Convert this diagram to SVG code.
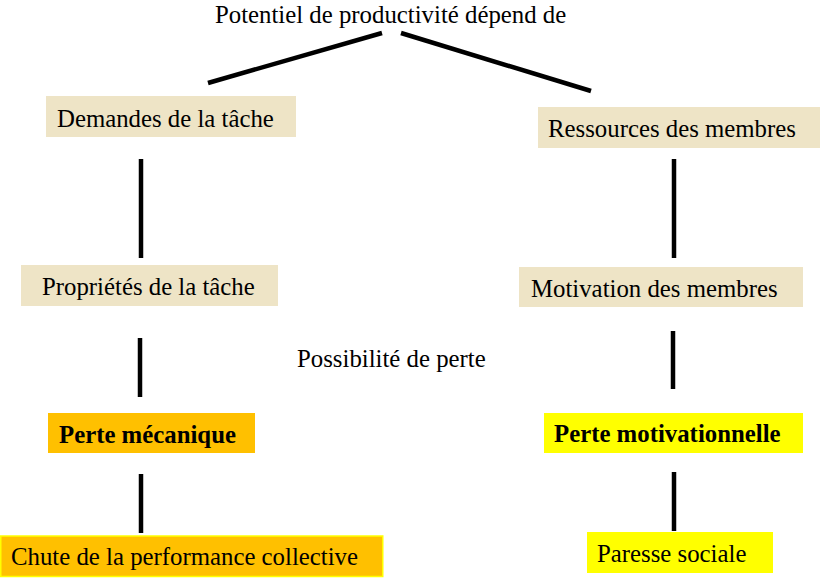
<svg xmlns="http://www.w3.org/2000/svg" width="822" height="578" viewBox="0 0 822 578">
<style>
text{font-family:"Liberation Serif","Times New Roman",serif;font-size:24.8px;fill:#000}
.b{font-weight:bold}
.tan{fill:#EEE4C6}
.org{fill:#FFC000}
.yel{fill:#FFFF00}
.c line{stroke:#000;stroke-width:4.5}
</style>
<rect width="822" height="578" fill="#fff"/>
<g id="title"><text x="215" y="22.5">Potentiel de productivité dépend de</text></g>
<g id="possibilite"><text x="297" y="367">Possibilité de perte</text></g>
<g class="c" id="connectors">
<line x1="208" y1="83" x2="382" y2="33"/>
<line x1="401" y1="33" x2="591" y2="91"/>
<line x1="141" y1="159" x2="141" y2="258"/>
<line x1="674" y1="159" x2="674" y2="258"/>
<line x1="140" y1="338" x2="140" y2="397"/>
<line x1="673" y1="331" x2="673" y2="389"/>
<line x1="141" y1="474" x2="141" y2="533"/>
<line x1="674" y1="472" x2="674" y2="531"/>
</g>
<g id="demandes"><rect class="tan" x="46" y="96" width="250" height="41"/><text x="57" y="127">Demandes de la tâche</text></g>
<g id="ressources"><rect class="tan" x="538" y="107" width="282" height="41"/><text x="548" y="137">Ressources des membres</text></g>
<g id="proprietes"><rect class="tan" x="21" y="265" width="257" height="41"/><text x="42" y="295">Propriétés de la tâche</text></g>
<g id="motivation"><rect class="tan" x="519" y="267" width="284" height="40"/><text x="531" y="297">Motivation des membres</text></g>
<g id="perte-mecanique"><rect class="org" x="48" y="413" width="207" height="40"/><text class="b" x="59" y="443">Perte mécanique</text></g>
<g id="perte-motivationnelle"><rect class="yel" x="544" y="413" width="259" height="40"/><text class="b" x="554" y="442">Perte motivationnelle</text></g>
<g id="chute"><rect class="org" x="0.75" y="536" width="382" height="40.5" stroke="#FFFF00" stroke-width="1.5"/><text x="11" y="565">Chute de la performance collective</text></g>
<g id="paresse"><rect class="yel" x="587" y="532" width="186" height="41"/><text x="597" y="562">Paresse sociale</text></g>
</svg>
